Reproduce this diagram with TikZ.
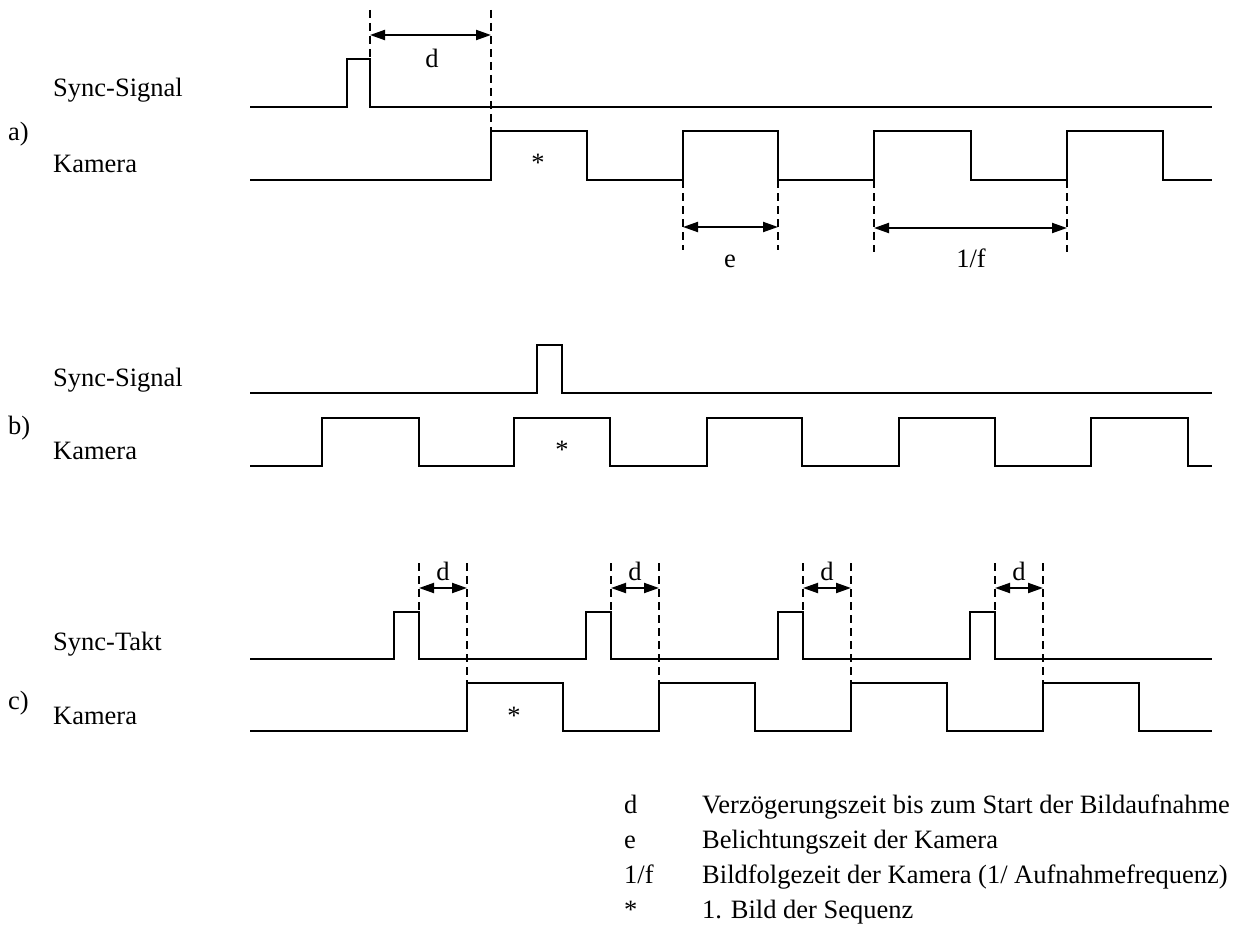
\documentclass[tikz,border=0pt]{standalone}
\usepackage{fontspec}
\setmainfont{Liberation Serif}
\usetikzlibrary{arrows.meta}
\begin{document}
\begin{tikzpicture}[x=1pt,y=-1pt,
  sig/.style={line width=2pt, line join=miter},
  guide/.style={line width=1.6pt, dash pattern=on 8pt off 5pt},
  dim/.style={line width=2pt, {Triangle[length=15pt,width=10pt]}-{Triangle[length=15pt,width=10pt]}},
  lbl/.style={anchor=base west, inner sep=0pt, font=\fontsize{26.5}{32}\selectfont},
  ctr/.style={anchor=base, inner sep=0pt, font=\fontsize{26.5}{32}\selectfont}
]
\useasboundingbox (0,0) rectangle (1247,931);

% ---------- a) ----------
\node[lbl] (aSync) at (53,97) {Sync-Signal};
\node[lbl] (aTag) at (8,141) {a)};
\node[lbl] (aKam) at (53,172) {Kamera};
\draw[sig] (250,107) -| (347,59) -| (370,107) -- (1212,107);
\draw[sig] (250,180) -| (491,131) -| (587,180) -| (683,131) -| (778,180) -| (874,131) -| (971,180) -| (1067,131) -| (1163,180) -- (1212,180);
\node[ctr] (aStar) at (538,171) {*};
% d
\coordinate (ad1t) at (370,10); \coordinate (ad1b) at (370,59);
\coordinate (ad2t) at (491,10); \coordinate (ad2b) at (491,131);
\draw[guide] (ad1t) -- (ad1b);
\draw[guide] (ad2t) -- (ad2b);
\coordinate (ada) at (370,35); \coordinate (adb) at (491,35);
\draw[dim] (ada) -- (adb);
\node[ctr] (adlbl) at (432,68) {d};
% e
\coordinate (ae1t) at (683,180); \coordinate (ae1b) at (683,250);
\coordinate (ae2t) at (778,180); \coordinate (ae2b) at (778,250);
\draw[guide] (ae1t) -- (ae1b);
\draw[guide] (ae2t) -- (ae2b);
\coordinate (aea) at (683,227); \coordinate (aeb) at (778,227);
\draw[dim] (aea) -- (aeb);
\node[ctr] (aelbl) at (730,267) {e};
% 1/f
\coordinate (af1t) at (874,180); \coordinate (af1b) at (874,252);
\coordinate (af2t) at (1067,180); \coordinate (af2b) at (1067,252);
\draw[guide] (af1t) -- (af1b);
\draw[guide] (af2t) -- (af2b);
\coordinate (afa) at (874,228); \coordinate (afb) at (1067,228);
\draw[dim] (afa) -- (afb);
\node[ctr] (aflbl) at (971,267) {1/f};

% ---------- b) ----------
\node[lbl] (bSync) at (53,386) {Sync-Signal};
\node[lbl] (bTag) at (8,434) {b)};
\node[lbl] (bKam) at (53,459) {Kamera};
\draw[sig] (250,393) -| (537,345) -| (562,393) -- (1212,393);
\draw[sig] (250,466) -| (322,418) -| (419,466) -| (514,418) -| (610,466) -| (707,418) -| (802,466) -| (899,418) -| (995,466) -| (1091,418) -| (1188,466) -- (1212,466);
\node[ctr] (bStar) at (562,458) {*};

% ---------- c) ----------
\node[lbl] (cSync) at (53,650) {Sync-Takt};
\node[lbl] (cTag) at (8,709) {c)};
\node[lbl] (cKam) at (53,724) {Kamera};
\draw[sig] (250,659) -| (394,612) -| (419,659) -| (586,612) -| (611,659) -| (778,612) -| (803,659) -| (970,612) -| (995,659) -- (1212,659);
\draw[sig] (250,731) -| (467,683) -| (563,731) -| (659,683) -| (755,731) -| (851,683) -| (947,731) -| (1043,683) -| (1139,731) -- (1212,731);
\node[ctr] (cStar) at (514,724) {*};
\foreach \k in {0,1,2,3}{
  \pgfmathsetmacro{\xa}{419+192*\k}
  \pgfmathsetmacro{\xb}{467+192*\k}
  \pgfmathsetmacro{\xm}{443+192*\k}
  \coordinate (cd\k at) at (\xa,563); \coordinate (cd\k ab) at (\xa,612);
  \coordinate (cd\k bt) at (\xb,563); \coordinate (cd\k bb) at (\xb,683);
  \draw[guide] (cd\k at) -- (cd\k ab);
  \draw[guide] (cd\k bt) -- (cd\k bb);
  \coordinate (cd\k l) at (\xa,588); \coordinate (cd\k r) at (\xb,588);
  \draw[dim] (cd\k l) -- (cd\k r);
  \node[ctr] (cdlbl\k) at (\xm,580) {d};
}

% ---------- legend ----------
\node[lbl] (k1) at (624,813) {d};
\node[lbl] (v1) at (702,813) {Verzögerungszeit bis zum Start der Bildaufnahme};
\node[lbl] (k2) at (624,848) {e};
\node[lbl] (v2) at (702,848) {Belichtungszeit der Kamera};
\node[lbl] (k3) at (624,883) {1/f};
\node[lbl] (v3) at (702,883) {Bildfolgezeit der Kamera (1/ Aufnahmefrequenz)};
\node[lbl] (k4) at (624,918) {*};
\node[lbl] (v4) at (702,918) {1. Bild der Sequenz};
\end{tikzpicture}
\end{document}
